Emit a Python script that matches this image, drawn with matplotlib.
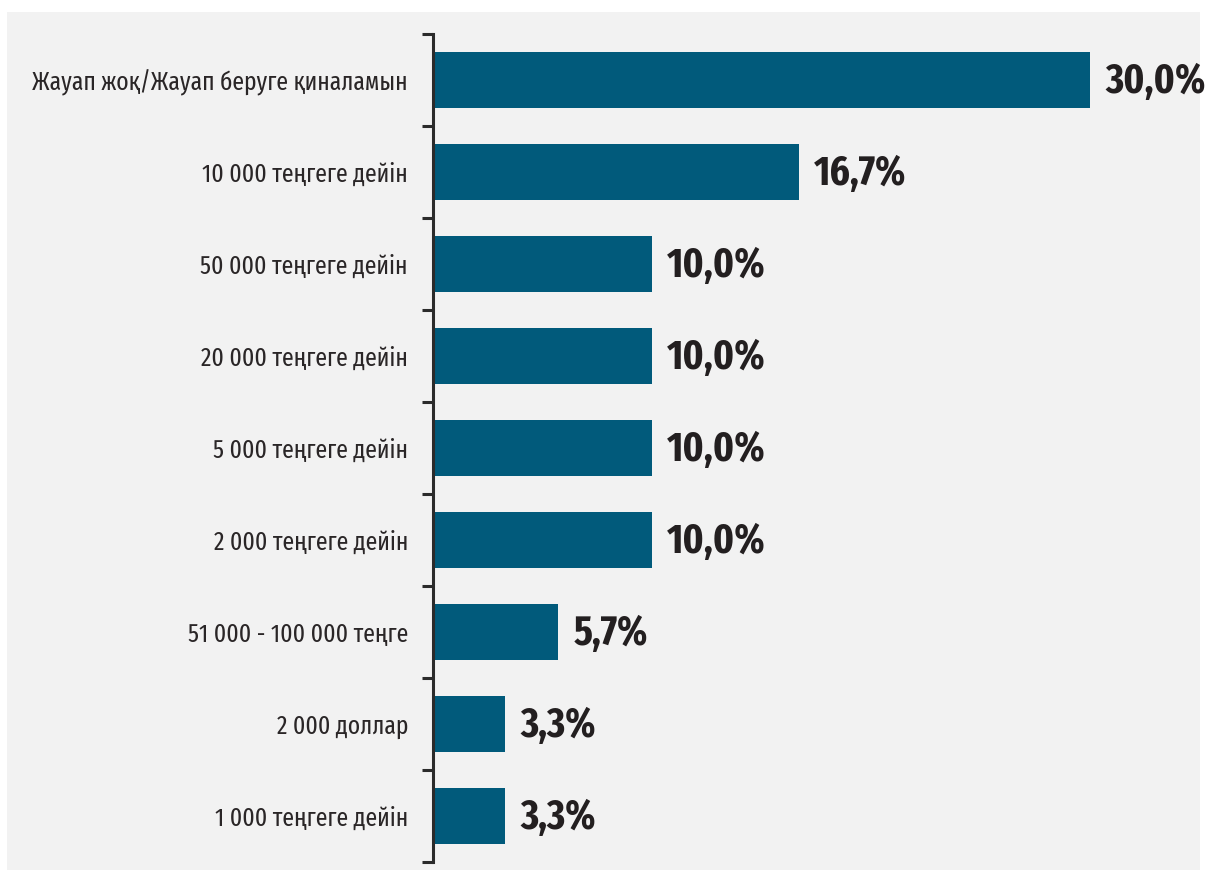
import matplotlib.pyplot as plt
from matplotlib.patches import Rectangle

categories = [
    "Жауап жоқ/Жауап беруге қиналамын",
    "10 000 теңгеге дейін",
    "50 000 теңгеге дейін",
    "20 000 теңгеге дейін",
    "5 000 теңгеге дейін",
    "2 000 теңгеге дейін",
    "51 000 - 100 000 теңге",
    "2 000 доллар",
    "1 000 теңгеге дейін",
]
values = [30.0, 16.7, 10.0, 10.0, 10.0, 10.0, 5.7, 3.3, 3.3]
value_labels = ["30,0%", "16,7%", "10,0%", "10,0%", "10,0%", "10,0%", "5,7%", "3,3%", "3,3%"]

plt.rcParams["font.family"] = ["Fira Sans Extra Condensed", "Fira Sans Condensed", "DejaVu Sans"]

bar_color = "#015a7b"
text_color = "#231f20"

fig = plt.figure(figsize=(12.06, 8.75), dpi=100)
fig.patch.set_facecolor("white")
# gray panel behind the chart
fig.patches.append(Rectangle((7 / 1206, 1 - 870 / 875), (1200 - 7) / 1206, (870 - 12) / 875,
                             transform=fig.transFigure, facecolor="#f2f2f2",
                             edgecolor="none", zorder=-10))

ax = fig.add_axes([433 / 1206, 1 - 862 / 875, (1200 - 433) / 1206, (862 - 34) / 875])
ax.set_facecolor("none")

y = list(range(len(categories)))
ax.barh(y, values, height=0.61, color=bar_color, zorder=2)
ax.set_xlim(0, 35.0)
ax.set_ylim(len(categories) - 0.5, -0.5)

for yi, v, lab in zip(y, values, value_labels):
    ax.annotate(lab, (v, yi), xytext=(11, -1), textcoords="offset points",
                va="center", ha="left", fontsize=30, fontweight="bold",
                color=text_color)

# ticks at the boundaries, labels at the centres
ax.set_yticks([i - 0.5 for i in range(len(categories) + 1)])
ax.set_yticklabels([])
ax.set_yticks(y, minor=True)
ax.set_yticklabels(categories, minor=True, fontsize=18.5, color="#2a2627")
ax.tick_params(axis="y", which="major", length=8, width=2.2, color="#2b2b2b")
ax.tick_params(axis="y", which="minor", length=0, pad=18)

ax.set_xticks([])
for s in ["top", "right", "bottom"]:
    ax.spines[s].set_visible(False)
ax.spines["left"].set_linewidth(2.2)
ax.spines["left"].set_color("#2b2b2b")

fig.savefig("out.png", dpi=100)
